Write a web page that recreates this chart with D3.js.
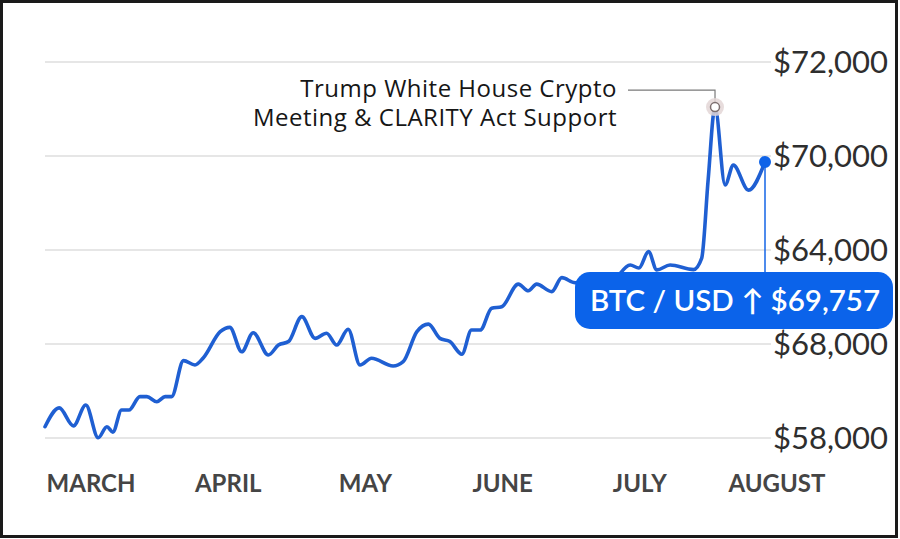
<!DOCTYPE html>
<html>
<head>
<meta charset="utf-8">
<script src="https://cdn.jsdelivr.net/npm/d3@7"></script>
<style>
  html, body { margin: 0; padding: 0; background: #fff; }
  svg { display: block; }
</style>
</head>
<body>
<div id="chart"></div>
<script>
// Chart size
const width = 900;
const height = 539;

// Days since March 1 and closing price
const days = [0, 3.1, 6.2, 8.9, 11.6, 13.5, 14.8, 16.7, 18.3, 20.7, 22.2, 24.4, 26.2, 27.6,
  30.2, 32.7, 34.5, 38.2, 40.3, 42.9, 45.4, 48.7, 50.9, 53.1, 56.0, 58.9, 61.4, 63.6,
  66.1, 68.7, 71.2, 75.9, 78.1, 81.1, 83.6, 86.1, 88.3, 90.9, 93.0, 94.9, 97.4, 99.6,
  103.2, 105.4, 107.2, 110.5, 112.7, 115.6, 119.3, 123.2, 127.6, 129.5, 131.6, 133.4,
  136.3, 141.4, 143.2, 144.6, 146.1, 148.3, 150.1, 153.4, 157];
const prices = [58420, 59120, 58450, 59230, 58010, 58420, 58220, 59040, 59040, 59540, 59540, 59350, 59540, 59540,
  60880, 60720, 60980, 61960, 62120, 61210, 61920, 61090, 61460, 61590, 62520, 61710, 61900, 61460,
  62050, 60720, 60970, 60680, 60840, 61960, 62240, 61710, 61590, 61120, 62020, 62020, 62830, 62890,
  63730, 63480, 63730, 63450, 63970, 63780, 63920, 63800, 64440, 64330, 64940, 64260,
  64440, 64270, 64700, 67610, 70320, 67420, 68160, 67230, 68280];

// Axis labels
const months = ["MARCH", "APRIL", "MAY", "JUNE", "JULY", "AUGUST"];
const tickValues = [58000, 61500, 65000, 68500, 72000];
const tickLabels = ["$58,000", "$68,000", "$64,000", "$70,000", "$72,000"];

// Annotation + badge text
const peakIndex = 58;
const noteLines = ["Trump White House Crypto", "Meeting & CLARITY Act Support"];
const badgeText = "BTC / USD \u2191 $69,757";

const data = days.map((d, i) => ({ day: d, price: prices[i] }));

const svg = d3.select("#chart")
  .append("svg")
  .attr("width", width)
  .attr("height", height);

svg.append("rect")
  .attr("width", width)
  .attr("height", height)
  .attr("fill", "#fff");

const x = d3.scaleLinear().domain([0, 157]).range([45, 765]);
const y = d3.scaleLinear().domain([58000, 72000]).range([438, 62]);
const xMonth = d3.scalePoint().domain(months).range([91, 777]);

// Gridlines
svg.append("g")
  .selectAll("line")
  .data(tickValues)
  .join("line")
  .attr("x1", 45)
  .attr("x2", 771)
  .attr("y1", d => y(d))
  .attr("y2", d => y(d))
  .attr("stroke", "#dedede")
  .attr("stroke-width", 1.5);

// Y labels
svg.append("g")
  .selectAll("text")
  .data(tickValues)
  .join("text")
  .attr("x", 888)
  .attr("y", d => y(d))
  .attr("dy", "0.36em")
  .attr("text-anchor", "end")
  .attr("font-family", "Lato, sans-serif")
  .attr("font-size", 31)
  .attr("fill", "#2e2e2e")
  .text((d, i) => tickLabels[i]);

// Month labels
svg.append("g")
  .selectAll("text")
  .data(months)
  .join("text")
  .attr("x", d => xMonth(d))
  .attr("y", 492)
  .attr("text-anchor", "middle")
  .attr("font-family", "Lato, sans-serif")
  .attr("font-weight", 700)
  .attr("font-size", 24)
  .attr("fill", "#454545")
  .text(d => d);

// Price line
const line = d3.line()
  .x(d => x(d.day))
  .y(d => y(d.price))
  .curve(d3.curveMonotoneX);

svg.append("path")
  .datum(data)
  .attr("d", line)
  .attr("fill", "none")
  .attr("stroke", "#1f5fd2")
  .attr("stroke-width", 3.6)
  .attr("stroke-linejoin", "round")
  .attr("stroke-linecap", "round");

// Peak annotation
const peak = data[peakIndex];
const px = x(peak.day), py = y(peak.price);

svg.append("path")
  .attr("d", `M${px},${py - 5} V${py - 17} H628`)
  .attr("fill", "none")
  .attr("stroke", "#7a7a7a")
  .attr("stroke-width", 1.2);

svg.append("circle")
  .attr("cx", px).attr("cy", py).attr("r", 9)
  .attr("fill", "#e3d6d6").attr("opacity", 0.85);
svg.append("circle")
  .attr("cx", px).attr("cy", py).attr("r", 4.5)
  .attr("fill", "#fff").attr("stroke", "#7d6f6f").attr("stroke-width", 1.5);

svg.append("g")
  .selectAll("text")
  .data(noteLines)
  .join("text")
  .attr("x", 617)
  .attr("y", (d, i) => 96.5 + i * 29.5)
  .attr("text-anchor", "end")
  .attr("font-family", "'Open Sans', sans-serif")
  .attr("font-size", 24)
  .attr("letter-spacing", 0.5)
  .attr("fill", "#161616")
  .text(d => d);

// Last point + badge
const last = data[data.length - 1];
const lx = x(last.day), ly = y(last.price);

svg.append("line")
  .attr("x1", lx).attr("x2", lx)
  .attr("y1", ly).attr("y2", 285)
  .attr("stroke", "#1565e6")
  .attr("stroke-width", 1.5);

svg.append("circle")
  .attr("cx", lx).attr("cy", ly).attr("r", 6)
  .attr("fill", "#0f63e8");

svg.append("rect")
  .attr("x", 575).attr("y", 272)
  .attr("width", 318).attr("height", 57)
  .attr("rx", 15)
  .attr("fill", "#0b63ea");

svg.append("text")
  .attr("x", 735)
  .attr("y", 311)
  .attr("text-anchor", "middle")
  .attr("font-family", "Lato, sans-serif")
  .attr("font-weight", 600)
  .attr("font-size", 29.5)
  .attr("fill", "#fff")
  .text(badgeText);

// Frame
svg.append("rect")
  .attr("x", 1.5).attr("y", 1.5)
  .attr("width", 895).attr("height", 535)
  .attr("fill", "none")
  .attr("stroke", "#1a1a1a")
  .attr("stroke-width", 3);
</script>
</body>
</html>
